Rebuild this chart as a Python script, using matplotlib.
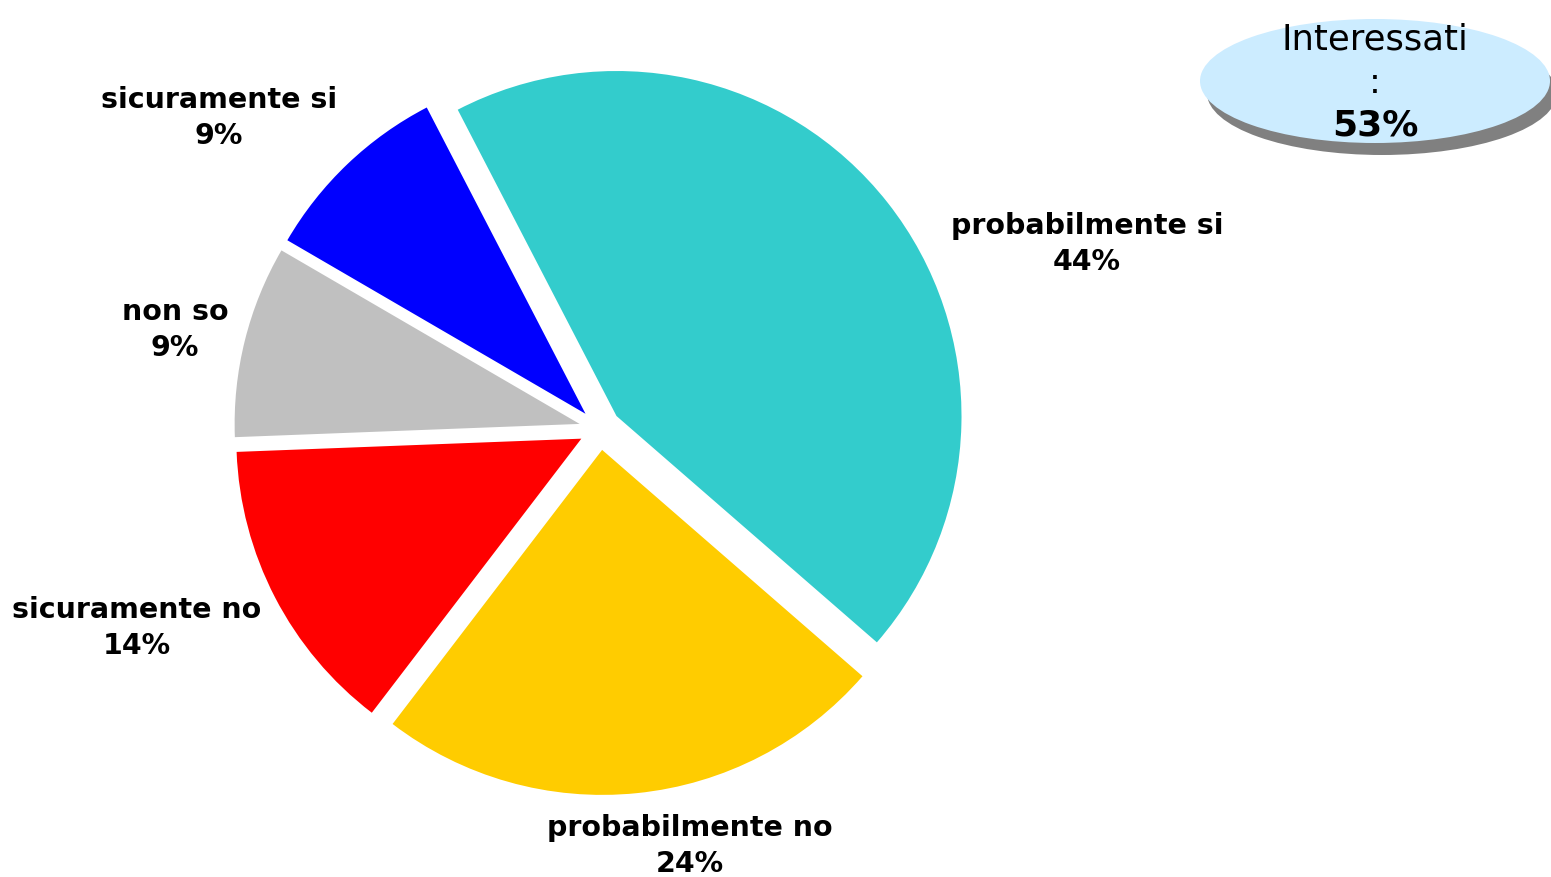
import matplotlib
matplotlib.use("Agg")
import matplotlib.pyplot as plt
from matplotlib.patches import Ellipse

categories = ["probabilmente si", "probabilmente no", "sicuramente no", "non so", "sicuramente si"]
values = [44, 24, 14, 9, 9]
colors = ["#33CCCC", "#FFCC00", "#FF0000", "#C0C0C0", "#0000FF"]
label_pos = [(1087, 244), (690, 846), (137, 628), (175, 330), (219, 118)]
summary_label = "Interessati"
summary_value = "53%"

W, H = 1551, 878
fig = plt.figure(figsize=(W / 100, H / 100), dpi=100)
ax = fig.add_axes([0, 0, 1, 1])

cx, cy, r = 600, H - 430, 345
ax.pie(values, colors=colors, startangle=117.4, counterclock=False,
       center=(cx, cy), radius=r, explode=[21] * len(values),
       wedgeprops=dict(linewidth=0))

for cat, v, (px, py) in zip(categories, values, label_pos):
    ax.text(px, H - py, f"{cat}\n{v}%", ha="center", va="center",
            fontsize=20.5, fontweight="bold", family="DejaVu Sans",
            linespacing=1.38, color="black")

# summary ellipse with shadow
ex, ey, ew, eh = 1375, H - 82, 350, 124
ax.add_patch(Ellipse((ex + 7, ey - 12), ew, eh, facecolor="#808080", edgecolor="none", zorder=3))
ax.add_patch(Ellipse((ex, ey), ew, eh, facecolor="#CCECFF", edgecolor="none", zorder=4))
ax.text(ex, H - 39, summary_label, ha="center", va="center", fontsize=25.5, zorder=5, family="DejaVu Sans")
ax.text(ex, H - 83, ":", ha="center", va="center", fontsize=25.5, zorder=5, family="DejaVu Sans")
ax.text(ex, H - 125, summary_value, ha="center", va="center", fontsize=26, fontweight="bold", zorder=5, family="DejaVu Sans")

ax.set_xlim(0, W)
ax.set_ylim(0, H)
ax.set_aspect("equal")
ax.axis("off")

fig.savefig("out.png", dpi=100, facecolor="white")
